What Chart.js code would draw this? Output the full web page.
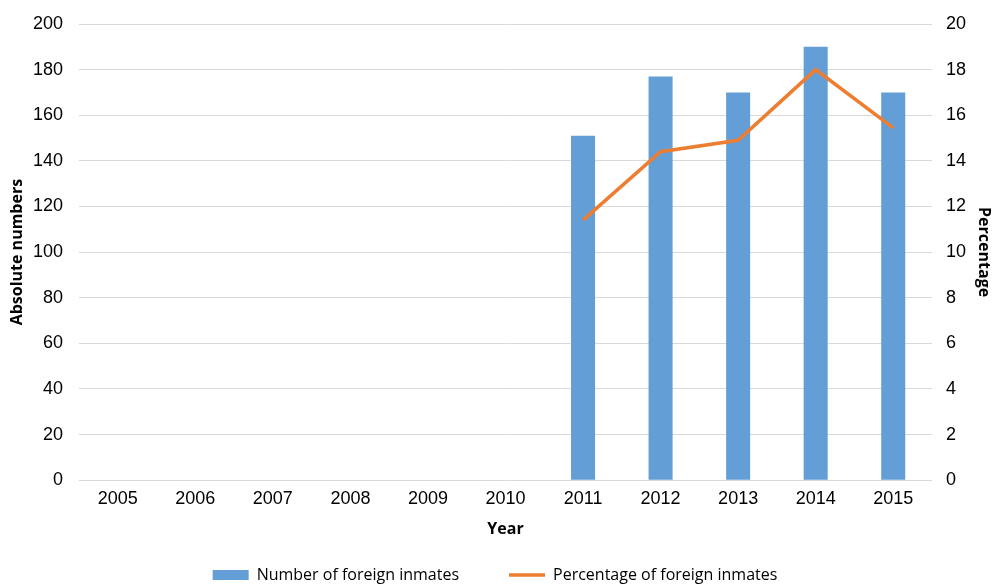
<!DOCTYPE html>
<html><head><meta charset="utf-8">
<script src="https://cdn.jsdelivr.net/npm/chart.js@4/dist/chart.umd.min.js"></script>
<style>html,body{margin:0;padding:0;background:#fff}#wrap{width:993px;height:585px}</style>
</head><body><div id="wrap"><canvas id="c" width="993" height="585"></canvas></div>
<script>
const years = ['2005','2006','2007','2008','2009','2010','2011','2012','2013','2014','2015'];
const foreignInmates = [null,null,null,null,null,null,151,177,170,190,170];
const foreignPercentage = [null,null,null,null,null,null,11.4,14.4,14.9,18.0,15.45];
const leftTicks = [0,20,40,60,80,100,120,140,160,180,200];
const rightTicks = [0,2,4,6,8,10,12,14,16,18,20];

const tickFont = {family:'"Liberation Sans", Arial, sans-serif', size:18};
const titleFont = {family:'"Open Sans", "Liberation Sans", sans-serif', size:16, weight:'bold'};
new Chart(document.getElementById('c'), {
  data: {
    labels: years,
    datasets: [
      {type:'line', label:'Percentage of foreign inmates', data: foreignPercentage, yAxisID:'y1',
       borderColor:'#ED7D31', backgroundColor:'#ED7D31', borderWidth:3.5, pointRadius:0, tension:0, order:0, spanGaps:false},
      {type:'bar', label:'Number of foreign inmates', data: foreignInmates, yAxisID:'y',
       backgroundColor:'#639ED6', barPercentage:0.31, categoryPercentage:1, order:1}
    ]
  },
  options: {
    responsive:false, animation:false,
    layout:{padding:{left:3,right:6,top:24,bottom:-8}},
    plugins:{
      legend:{position:'bottom', reverse:true,
        labels:{usePointStyle:true, pointStyleWidth:36, boxHeight:10, padding:50,
          color:'#000', font:{family:'"Open Sans", "Noto Sans", sans-serif', size:16},
          generateLabels(chart){
            const items = Chart.defaults.plugins.legend.labels.generateLabels(chart);
            items.forEach(it=>{
              const ds = chart.data.datasets[it.datasetIndex];
              if (ds.type==='line'){ it.pointStyle='line'; it.lineWidth=3.5; it.strokeStyle='#ED7D31'; }
              else { it.pointStyle='rect'; it.lineWidth=0; it.fillStyle='#639ED6'; it.strokeStyle='#639ED6'; }
            });
            return items;
          }}},
      tooltip:{enabled:false}
    },
    scales:{
      x:{grid:{display:false}, border:{display:false},
         ticks:{color:'#000', font:tickFont, padding:0},
         title:{display:true, text:'Year', color:'#000', font:titleFont, padding:{top:10,bottom:-22}}},
      y:{position:'left', min:0, max:200,
         afterBuildTicks(ax){ ax.ticks = leftTicks.map(v=>({value:v})); },
         afterFit(ax){ ax.width = 76; ax.paddingTop = 0; ax.paddingBottom = 0; },
         grid:{color:'#D9D9D9', lineWidth:1, drawTicks:false}, border:{display:false},
         ticks:{color:'#000', font:tickFont, padding:16},
         title:{display:true, text:'Absolute numbers', color:'#000', font:titleFont, padding:{top:5,bottom:0}}},
      y1:{position:'right', min:0, max:20,
         afterBuildTicks(ax){ ax.ticks = rightTicks.map(v=>({value:v})); },
         afterFit(ax){ ax.width = 55; ax.paddingTop = 0; ax.paddingBottom = 0; },
         grid:{display:false, drawTicks:false}, border:{display:false},
         ticks:{color:'#000', font:tickFont, padding:14},
         title:{display:true, text:'Percentage', color:'#000', font:titleFont, padding:{top:-6,bottom:0}}}
    }
  }
});
</script></body></html>
